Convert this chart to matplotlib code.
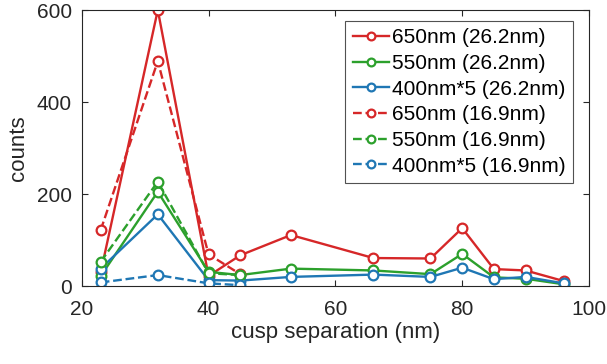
import matplotlib.pyplot as plt
import numpy as np

plt.rcParams['font.family'] = ['Liberation Sans', 'DejaVu Sans']

# cusp separation (nm)
sep_262 = [23, 32, 40, 45, 53, 66, 75, 80, 85, 90, 96]
sep_169 = [23, 32, 40, 45]

# 26.2nm series
red_262 = [30, 600, 22, 67, 111, 61, 60, 126, 37, 34, 11]
green_262 = [22, 205, 31, 24, 38, 34, 26, 70, 19, 16, 4]
blue_262 = [38, 156, 13, 12, 20, 25, 20, 40, 15, 20, 6]

# 16.9nm series
red_169 = [122, 489, 69, 26]
green_169 = [53, 227, 28, 24]
blue_169 = [8, 24, 6, 2]

red = '#d62728'
green = '#2ca02c'
blue = '#1f77b4'

fig = plt.figure(figsize=(6.07, 3.64), dpi=100)
ax = fig.add_axes([0.1346, 0.214, 0.8358, 0.7585])

mk = dict(marker='o', markerfacecolor='white', markersize=7, markeredgewidth=1.6, lw=1.7)
ax.plot(sep_262, red_262, color=red, ls='-', label='650nm (26.2nm)', **mk)
ax.plot(sep_262, green_262, color=green, ls='-', label='550nm (26.2nm)', **mk)
ax.plot(sep_262, blue_262, color=blue, ls='-', label='400nm*5 (26.2nm)', **mk)
ax.plot(sep_169, red_169, color=red, ls='--', label='650nm (16.9nm)', **mk)
ax.plot(sep_169, green_169, color=green, ls='--', label='550nm (16.9nm)', **mk)
ax.plot(sep_169, blue_169, color=blue, ls='--', label='400nm*5 (16.9nm)', **mk)

ax.set_xlim(20, 100)
ax.set_ylim(0, 600)
ax.set_xticks([20, 40, 60, 80, 100])
ax.set_yticks([0, 200, 400, 600])
ax.tick_params(direction='in', top=True, right=True, labelsize=15, colors='#262626', length=4)
ax.tick_params(axis='x', pad=10)
ax.tick_params(axis='y', pad=7)
for s in ax.spines.values():
    s.set_color('#262626')
    s.set_linewidth(0.8)
ax.set_xlabel('cusp separation (nm)', fontsize=16, color='#262626', labelpad=2)
ax.set_ylabel('counts', fontsize=16, color='#262626', labelpad=6)

leg = ax.legend(loc='upper right', bbox_to_anchor=(0.9685, 0.96), borderaxespad=0,
                fontsize=15, frameon=True, fancybox=False, markerscale=0.8,
                edgecolor='#262626', handlelength=1.75, handletextpad=0.15,
                labelspacing=0.32, borderpad=0.35)
leg.get_frame().set_linewidth(0.8)

fig.savefig('out.png')
